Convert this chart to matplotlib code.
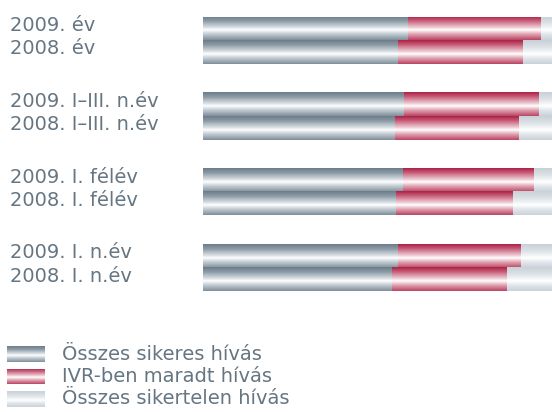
import matplotlib
matplotlib.use("Agg")
import matplotlib.pyplot as plt
from matplotlib.colors import LinearSegmentedColormap
from matplotlib.transforms import blended_transform_factory
import numpy as np

# Data (percent of all calls)
periods = ["2009. év", "2008. év",
           "2009. I\u2013III. n.év", "2008. I\u2013III. n.év",
           "2009. I. félév", "2008. I. félév",
           "2009. I. n.év", "2008. I. n.év"]
sikeres = [58.7, 55.9, 57.6, 55.0, 57.3, 55.3, 55.9, 54.2]
ivr = [38.1, 35.8, 38.7, 35.5, 37.5, 33.5, 35.2, 33.0]
sikertelen = [100 - a - b for a, b in zip(sikeres, ivr)]
series_names = ["Összes sikeres hívás", "IVR-ben maradt hívás",
                "Összes sikertelen hívás"]

TEXT = "#657682"
FONT = dict(family="DejaVu Sans", weight="normal")

# vertical metallic gradients, top -> bottom
GRADS = [
    LinearSegmentedColormap.from_list("blue", [
        (0.0, "#6c7d8a"), (0.2, "#8c9ba6"), (0.45, "#d3dadf"),
        (0.58, "#ffffff"), (0.72, "#ccd4da"), (1.0, "#7f8f9b")]),
    LinearSegmentedColormap.from_list("red", [
        (0.0, "#ad2247"), (0.2, "#c8627c"), (0.45, "#ecc3cd"),
        (0.58, "#ffffff"), (0.72, "#e6b3c0"), (1.0, "#bb4564")]),
    LinearSegmentedColormap.from_list("grey", [
        (0.0, "#c9d1d8"), (0.3, "#dde3e7"), (0.58, "#ffffff"),
        (0.75, "#e3e8ec"), (1.0, "#c9d2d9")]),
]
grad = np.linspace(0, 1, 64).reshape(-1, 1)

fig = plt.figure(figsize=(5.52, 4.12), dpi=100)
fig.patch.set_facecolor("white")
ax = fig.add_axes([203 / 552, 1 - 291 / 412, 1 - 203 / 552, 274 / 412])

# two bars per group, gap between groups
ypos = [g * 3.24 + i for g in range(4) for i in range(2)]

left = np.zeros(len(periods))
for vals, cmap in zip([sikeres, ivr, sikertelen], GRADS):
    bars = ax.barh(ypos, vals, left=left, height=1.0, color="none",
                   edgecolor="none")
    for b in bars:
        x0, y0 = b.get_x(), b.get_y()
        w, h = b.get_width(), b.get_height()
        # inverted y axis: top of bar is y0
        ax.imshow(grad, cmap=cmap, aspect="auto", interpolation="bilinear",
                  extent=(x0, x0 + w, y0 + h, y0), zorder=2)
    left += np.array(vals)

ax.set_xlim(0, 100)
ax.set_ylim(ypos[-1] + 0.5, -0.5)
ax.axis("off")

trans = blended_transform_factory(fig.transFigure, ax.transData)
for y, lab in zip(ypos, periods):
    ax.text(10 / 552, y + 0.1, lab, transform=trans, ha="left",
            va="baseline", fontsize=14, color=TEXT, **FONT)

# legend
for i, (name, cmap) in enumerate(zip(series_names, GRADS)):
    top = 346 + i * 22.5
    lax = fig.add_axes([7 / 552, 1 - (top + 16) / 412, 38 / 552, 16 / 412])
    lax.imshow(grad, cmap=cmap, aspect="auto", interpolation="bilinear")
    lax.axis("off")
    fig.text(62 / 552, 1 - (top + 8) / 412, name, ha="left",
             va="center", fontsize=14, color=TEXT, **FONT)

fig.savefig("out.png", dpi=100, facecolor="white")
